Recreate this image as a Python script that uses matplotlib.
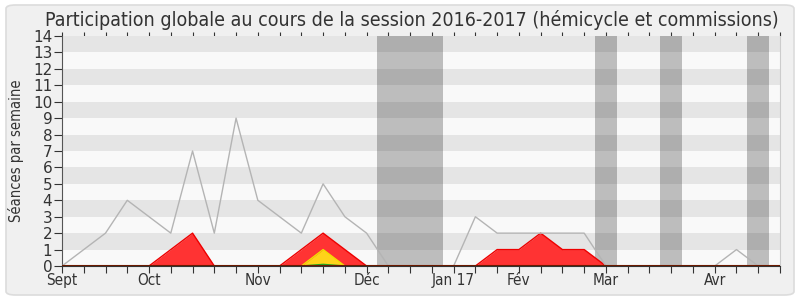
import matplotlib
matplotlib.use("Agg")
import matplotlib.pyplot as plt
from matplotlib.patches import FancyBboxPatch
import numpy as np

# ---- data ----
weeks = list(range(34))
total = [0, 1, 2, 4, 3, 2, 7, 2, 9, 4, 3, 2, 5, 3, 2, 0, 0, 0, 0, 3, 2, 2, 2, 2, 2, 0, 0, 0, 0, 0, 0, 1, 0, 0]
presence = [0, 0, 0, 0, 0, 1, 2, 0, 0, 0, 0, 1, 2, 1, 0, 0, 0, 0, 0, 0, 1, 1, 2, 1, 1, 0, 0, 0, 0, 0, 0, 0, 0, 0]
participation = [0, 0, 0, 0, 0, 0, 0, 0, 0, 0, 0, 0, 1, 0, 0, 0, 0, 0, 0, 0, 0, 0, 0, 0, 0, 0, 0, 0, 0, 0, 0, 0, 0, 0]
interventions = [0, 0, 0, 0, 0, 0, 0, 0, 0, 0, 0, 0, 0.1, 0, 0, 0, 0, 0, 0, 0, 0, 0, 0, 0, 0, 0, 0, 0, 0, 0, 0, 0, 0, 0]
vacations = [(14.5, 17.5), (24.5, 25.5), (27.5, 28.5), (31.5, 32.5)]
month_ticks = [0, 4, 9, 14, 18, 21, 25, 30]
month_labels = ["Sept", "Oct", "Nov", "Déc", "Jan 17", "Fév", "Mar", "Avr"]
title = "Participation globale au cours de la session 2016-2017 (hémicycle et commissions)"
ylabel = "Séances par semaine"

plt.rcParams['font.family'] = ['DejaVu Sans']
plt.rcParams['font.stretch'] = 'condensed'
txt = '#333333'

fig = plt.figure(figsize=(8, 3), dpi=100)
fig.patch.set_facecolor('white')
panel = FancyBboxPatch((6 / 800, 5 / 300), 788 / 800, 290 / 300,
                       boxstyle="round,pad=0,rounding_size=0.012",
                       transform=fig.transFigure, facecolor='#f0f0f0',
                       edgecolor='#dcdcdc', linewidth=1.2, zorder=-10)
fig.patches.append(panel)

ax = fig.add_axes([62 / 800, 34 / 300, 718 / 800, 230 / 300])
ax.set_zorder(5)
ax.set_facecolor('#f9f9f9')
ax.set_xlim(0, 33)
ax.set_ylim(0, 14)

for y in range(1, 14, 2):
    ax.axhspan(y, y + 1, color='#e5e5e5', lw=0, zorder=0.5)
for a, b in vacations:
    ax.axvspan(a, b, color='black', alpha=0.24, lw=0, zorder=0.6)

ax.plot(weeks, total, color='#b4b4b4', lw=1, zorder=3)
ax.fill_between(weeks, presence, color='#ff3333', lw=0, zorder=2)
ax.plot(weeks, presence, color='#ee0000', lw=1, zorder=2.1)
ax.fill_between(weeks, participation, color='#ffd21a', lw=0, zorder=2.2)
ax.plot(weeks, participation, color='#f0e000', lw=1, zorder=2.3)
ax.fill_between(weeks, interventions, color='#22cc22', lw=0, zorder=2.4)
ax.plot(weeks, interventions, color='#22aa22', lw=1, zorder=2.5)
ax.axhline(0, color='#6b1a00', lw=1.5, zorder=4)

ax.set_yticks(range(0, 15))
ax.set_yticklabels([str(v) for v in range(0, 15)], fontstretch='normal')
ax.set_xticks(weeks)
ax.set_xticklabels(['' for _ in weeks])
for w, lab in zip(month_ticks, month_labels):
    ax.text(w, -0.45, lab, ha='center', va='top', fontsize=11, color=txt)
ax.tick_params(axis='y', labelsize=11, labelcolor=txt, length=6, color='#333333', pad=1)
ax.tick_params(axis='x', length=5, color='#333333', direction='out')
top = ax.secondary_xaxis('top')
top.set_xticks(weeks)
top.set_xticklabels([])
top.tick_params(length=3, color='#333333')
top.spines['top'].set_visible(False)

ax.spines['top'].set_visible(False)
ax.spines['right'].set_color('#cccccc')
ax.spines['left'].set_color('#555555')
ax.spines['bottom'].set_color('#333333')

ax.set_ylabel(ylabel, fontsize=10.5, color=txt)
ax.yaxis.set_label_coords(-0.053, 0.5)
fig.text(0.515, 0.967, title, ha='center', va='top', fontsize=14, color=txt)

fig.savefig('out.png', dpi=100, facecolor=fig.get_facecolor())
